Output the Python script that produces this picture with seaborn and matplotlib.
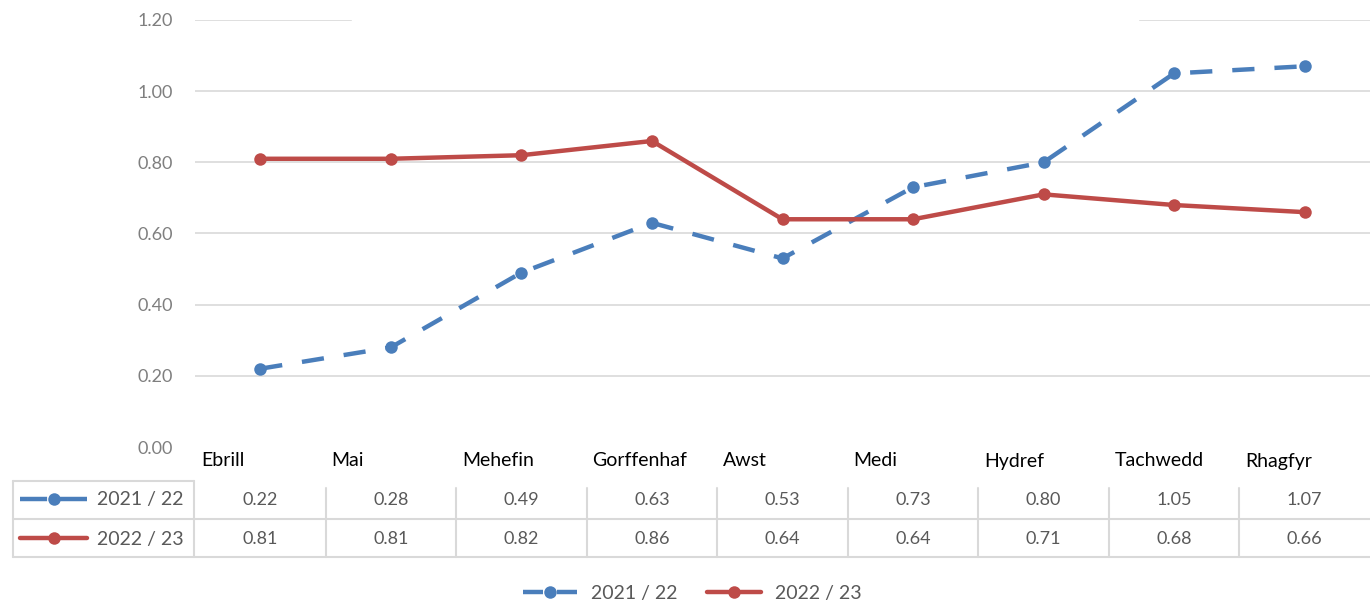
import matplotlib
matplotlib.use('Agg')
from matplotlib import pyplot as plt
from matplotlib import transforms
from matplotlib.lines import Line2D
from matplotlib.patches import Rectangle
import seaborn as sns
import pandas as pd

months = ['Ebrill', 'Mai', 'Mehefin', 'Gorffenhaf', 'Awst', 'Medi', 'Hydref', 'Tachwedd', 'Rhagfyr']
season_a = '2021 / 22'
season_b = '2022 / 23'
values_a = [0.22, 0.28, 0.49, 0.63, 0.53, 0.73, 0.80, 1.05, 1.07]
values_b = [0.81, 0.81, 0.82, 0.86, 0.64, 0.64, 0.71, 0.68, 0.66]
yticks = [0.0, 0.2, 0.4, 0.6, 0.8, 1.0, 1.2]

blue = '#4A7EBB'
red = '#BE4B48'
grid_c = '#D9D9D9'
LW = 3.2
MS = 9

rows = []
for i, m in enumerate(months):
    rows.append([i, m, season_a, values_a[i]])
    rows.append([i, m, season_b, values_b[i]])
df = pd.DataFrame(rows, columns=['pos', 'month', 'season', 'value'])

sns.set_style('white')
plt.rcParams['font.family'] = ['Lato', 'DejaVu Sans']

W, H = 1370, 605
fig = plt.figure(figsize=(W / 100, H / 100), dpi=100)
ax = fig.add_axes([195 / W, 1 - 447 / H, 1175 / W, (447 - 20) / H])

sns.lineplot(data=df, x='pos', y='value', hue='season', style='season',
             palette={season_a: blue, season_b: red},
             dashes={season_a: (5.0, 4.5), season_b: ''},
             markers={season_a: 'o', season_b: 'o'},
             markersize=MS, markeredgewidth=0, linewidth=LW,
             sort=False, ax=ax, legend=False)

ax.set_xlim(-0.5, len(months) - 0.5)
ax.set_ylim(0, 1.2)
ax.set_yticks(yticks)
ax.set_yticklabels([f'{t:.2f}' for t in yticks])
ax.set_xticks([])
ax.set_xlabel('')
ax.set_ylabel('')
ax.tick_params(axis='y', length=0, pad=16, labelsize=13, labelcolor='#7F7F7F')
ax.yaxis.grid(True, color=grid_c, linewidth=1.2)
ax.set_axisbelow(True)
for s in ax.spines.values():
    s.set_visible(False)
# 0.00 line hidden behind the category strip
ax.yaxis.get_gridlines()[0].set_visible(False)
# blank area on the top gridline
ax.add_patch(Rectangle(((352 - 195) / 1175, 0.97), (1138 - 352) / 1175, 0.06,
                       transform=ax.transAxes, color='white', zorder=1, clip_on=False))

# data table under the chart
blend = transforms.blended_transform_factory(ax.transData, fig.transFigure)
fy = lambda py: 1 - py / H
y_top, y_mid, y_bot, y_vtop = fy(481), fy(519), fy(557), fy(488)
x_left = 13 / W
x0 = 194 / W

def hline(x1, x2, y, tr):
    fig.add_artist(Line2D([x1, x2], [y, y], transform=tr, color=grid_c, linewidth=1.5))

def vline(x, y1, y2, tr):
    fig.add_artist(Line2D([x, x], [y1, y2], transform=tr, color=grid_c, linewidth=1.5))

hline(x_left, x0, y_top, fig.transFigure)
hline(x_left, 1.0, y_mid, fig.transFigure)
hline(x_left, 1.0, y_bot, fig.transFigure)
vline(x_left, y_top, y_bot, fig.transFigure)
vline(x0, y_top, y_bot, fig.transFigure)
for i in range(1, len(months)):
    vline(i - 0.5, y_vtop, y_bot, blend)

row_a, row_b = fy(500), fy(539)
for i, m in enumerate(months):
    ax.text(i - 0.455, fy(461), m, transform=blend, ha='left', va='center',
            fontsize=14, color='black')
    ax.text(i, row_a, f'{values_a[i]:.2f}', transform=blend, ha='center', va='center',
            fontsize=13, color='#595959')
    ax.text(i, row_b, f'{values_b[i]:.2f}', transform=blend, ha='center', va='center',
            fontsize=13, color='#595959')

def key(color, dashes):
    h = Line2D([], [], color=color, linewidth=LW, marker='o', markersize=MS,
               markeredgewidth=0)
    if dashes:
        h.set_dashes(dashes)
    return h

# keys inside the table
for h, lab, yy in [(key(blue, (6.1, 2.9)), season_a, row_a),
                   (key(red, None), season_b, row_b)]:
    fig.legend([h], [lab], loc='center left', bbox_to_anchor=(20 / W, yy),
               frameon=False, fontsize=14, labelcolor='#595959',
               handlelength=3.45, handletextpad=0.5, borderpad=0, borderaxespad=0)

fig.legend([key(blue, (4.5, 3.15)), key(red, None)], [season_a, season_b], loc='center',
           bbox_to_anchor=(692 / W, fy(593)), ncol=2, frameon=False,
           fontsize=14, labelcolor='#595959', handlelength=2.8,
           handletextpad=0.7, columnspacing=1.5, borderpad=0)

fig.savefig('out.png', dpi=100, facecolor='white')
